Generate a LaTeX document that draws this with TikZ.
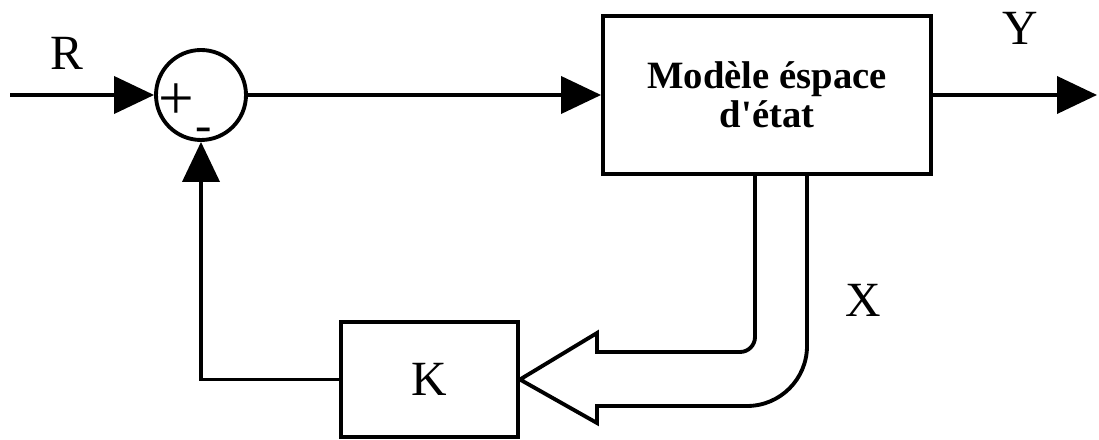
\documentclass[tikz,border=0pt]{standalone}
\usepackage{fontspec}
\setmainfont{Liberation Serif}
\usetikzlibrary{arrows.meta, positioning}

\begin{document}
\begin{tikzpicture}[>={Triangle[length=0.8cm,width=0.74cm]}, line width=2.2pt,
    block/.style={draw, rectangle, inner sep=0pt},
    sum/.style={draw, circle, minimum size=1.8cm, inner sep=0pt},
    sign/.style={inner sep=0pt},
    every node/.style={font=\fontsize{28}{30}\selectfont}]

    \useasboundingbox (0,0) rectangle (21.98,8.78);

    % Define the blocks (nodes)
    \node[sum] (sum) at (4.02,6.88) {}; % comparator
    \node[block, minimum width=6.56cm, minimum height=3.16cm, align=center,
          font=\fontsize{22}{22}\selectfont\bfseries] (model) at (15.34,6.88) {Mod\`ele \'espace\\d\textquotesingle\'etat};
    \node[block, minimum width=3.54cm, minimum height=2.3cm] (k) at (8.59,1.19) {K};
    \node[sign, font=\fontsize{36}{38}\selectfont] (plus) at (3.52,6.74) {+};
    \node[sign] (minus) at (4.08,6.08) {-};
    \coordinate (in) at (0.2,6.88);
    \coordinate (out) at (21.94,6.88);
    % Labels of the signals
    \node (r) at (1.34,7.72) {R};
    \node (y) at (20.4,8.22) {Y};
    \node (x) at (17.26,2.78) {X};

    % Define the connections (edges)
    \path[->]
    (in) edge (sum.west)
    (sum.east) edge (model.west)
    (model.east) edge (out);
    \draw[->] (k.west) -| (sum.south);

    % state vector X as a wide arrow
    \coordinate (xin) at ([xshift=-0.24cm]model.south);
    \coordinate (xout) at ([xshift=0.8cm]model.south);
    \draw[line join=miter] (xin) -- (xin |- 0,2.04) arc[start angle=0, end angle=-90, radius=0.3cm]
      -- (11.94,1.74) -- (11.94,2.12) -- (k.east) -- (11.94,0.32) -- (11.94,0.66)
      -- ([xshift=-1.2cm]xout |- 0,0.66) arc[start angle=-90, end angle=0, radius=1.2cm]
      -- (xout);

\end{tikzpicture}
\end{document}
